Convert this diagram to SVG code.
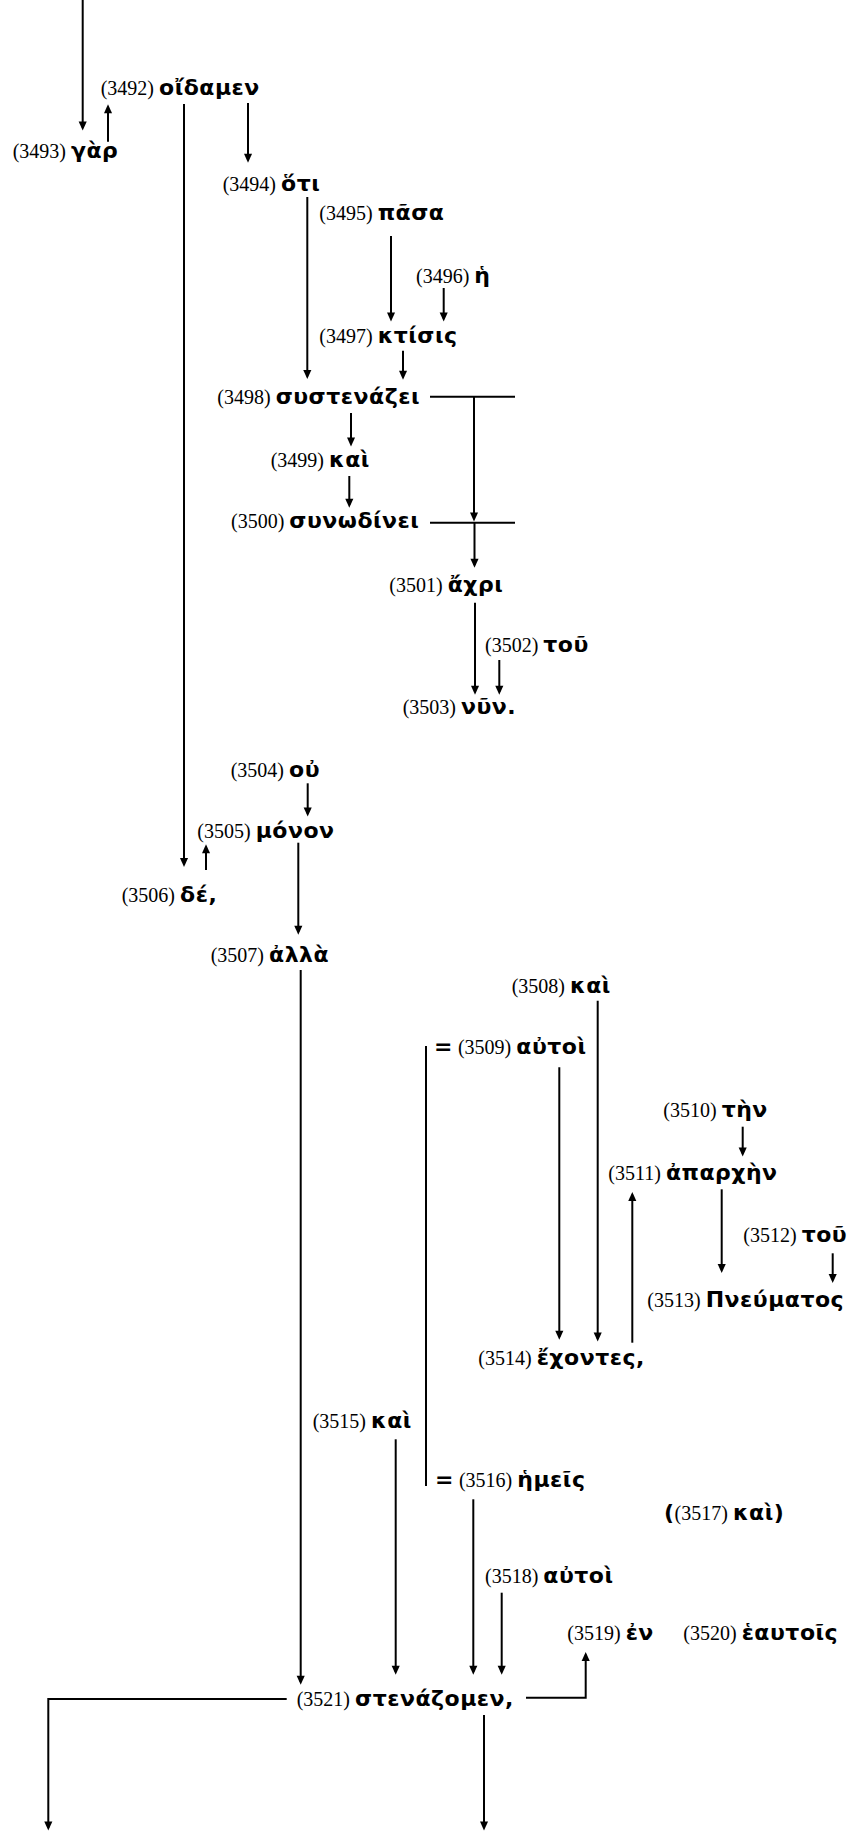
<svg xmlns="http://www.w3.org/2000/svg" width="856" height="1832" viewBox="0 0 856 1832">
<style>
text{font-family:"Liberation Serif","DejaVu Serif",serif;font-size:20px;fill:#000}
.n{font-family:"Liberation Serif","DejaVu Serif",serif;font-size:20px}
.g{font-family:"DejaVu Sans","Noto Sans",sans-serif;font-weight:bold;font-size:22px;letter-spacing:0.5px}
.c path{stroke:#000;stroke-width:2;fill:none}
</style>
<defs>
<marker id="ah" viewBox="0 0 10 10" refX="7" refY="5" markerWidth="10" markerHeight="9" markerUnits="userSpaceOnUse" orient="auto"><path d="M0,0.5 L10,5 L0,9.5 z" fill="#000"/></marker>
</defs>
<rect width="856" height="1832" fill="#fff"/>
<g class="c" id="connectors">
<path d="M82.7,0 V127.7" marker-end="url(#ah)"/>
<path d="M108,141.7 V107" marker-end="url(#ah)"/>
<path d="M184,104 V864.3" marker-end="url(#ah)"/>
<path d="M248,103 V160" marker-end="url(#ah)"/>
<path d="M307.3,197 V376.3" marker-end="url(#ah)"/>
<path d="M391,236 V318.7" marker-end="url(#ah)"/>
<path d="M443.7,288 V318.7" marker-end="url(#ah)"/>
<path d="M403,350.7 V377" marker-end="url(#ah)"/>
<path d="M430,396.7 H515"/>
<path d="M474,396.7 V518.7" marker-end="url(#ah)"/>
<path d="M430,522.7 H515"/>
<path d="M474.5,522.7 V565" marker-end="url(#ah)"/>
<path d="M351,413 V443.7" marker-end="url(#ah)"/>
<path d="M349.3,476 V505" marker-end="url(#ah)"/>
<path d="M475,602.7 V692" marker-end="url(#ah)"/>
<path d="M499.3,660 V692" marker-end="url(#ah)"/>
<path d="M307.7,783.3 V813.7" marker-end="url(#ah)"/>
<path d="M206,870 V847" marker-end="url(#ah)"/>
<path d="M298.3,842.7 V932" marker-end="url(#ah)"/>
<path d="M300.7,970 V1682" marker-end="url(#ah)"/>
<path d="M597.7,1000.7 V1338.7" marker-end="url(#ah)"/>
<path d="M559.3,1067.3 V1337" marker-end="url(#ah)"/>
<path d="M632.3,1342.7 V1194.7" marker-end="url(#ah)"/>
<path d="M742.7,1126.7 V1153.7" marker-end="url(#ah)"/>
<path d="M721.7,1189.3 V1270.3" marker-end="url(#ah)"/>
<path d="M832.7,1253.3 V1280.3" marker-end="url(#ah)"/>
<path d="M426,1046 V1486"/>
<path d="M395.7,1439.3 V1672" marker-end="url(#ah)"/>
<path d="M473.3,1499.3 V1672" marker-end="url(#ah)"/>
<path d="M501.7,1592.7 V1672" marker-end="url(#ah)"/>
<path d="M286.7,1699 H48.3 V1827.7" marker-end="url(#ah)"/>
<path d="M526,1697.7 H585.7 V1654.7" marker-end="url(#ah)"/>
<path d="M484,1715 V1827.7" marker-end="url(#ah)"/>
</g>
<g id="n3492"><text x="100.7" y="95"><tspan class="n">(3492)</tspan> <tspan class="g">οἴδαμεν</tspan></text></g>
<g id="n3493"><text x="12.7" y="158"><tspan class="n">(3493)</tspan> <tspan class="g">γὰρ</tspan></text></g>
<g id="n3494"><text x="222.7" y="190.7"><tspan class="n">(3494)</tspan> <tspan class="g">ὅτι</tspan></text></g>
<g id="n3495"><text x="319.3" y="220"><tspan class="n">(3495)</tspan> <tspan class="g">πᾶσα</tspan></text></g>
<g id="n3496"><text x="416" y="283"><tspan class="n">(3496)</tspan> <tspan class="g">ἡ</tspan></text></g>
<g id="n3497"><text x="319.3" y="343"><tspan class="n">(3497)</tspan> <tspan class="g">κτίσις</tspan></text></g>
<g id="n3498"><text x="217.3" y="404"><tspan class="n">(3498)</tspan> <tspan class="g">συστενάζει</tspan></text></g>
<g id="n3499"><text x="270.7" y="467"><tspan class="n">(3499)</tspan> <tspan class="g">καὶ</tspan></text></g>
<g id="n3500"><text x="231" y="528"><tspan class="n">(3500)</tspan> <tspan class="g">συνωδίνει</tspan></text></g>
<g id="n3501"><text x="389.3" y="591.7"><tspan class="n">(3501)</tspan> <tspan class="g">ἄχρι</tspan></text></g>
<g id="n3502"><text x="485" y="651.7"><tspan class="n">(3502)</tspan> <tspan class="g">τοῦ</tspan></text></g>
<g id="n3503"><text x="402.7" y="714"><tspan class="n">(3503)</tspan> <tspan class="g">νῦν.</tspan></text></g>
<g id="n3504"><text x="230.7" y="776.7"><tspan class="n">(3504)</tspan> <tspan class="g">οὐ</tspan></text></g>
<g id="n3505"><text x="197.3" y="838.3"><tspan class="n">(3505)</tspan> <tspan class="g">μόνον</tspan></text></g>
<g id="n3506"><text x="121.7" y="901.7"><tspan class="n">(3506)</tspan> <tspan class="g">δέ,</tspan></text></g>
<g id="n3507"><text x="210.7" y="961.7"><tspan class="n">(3507)</tspan> <tspan class="g">ἀλλὰ</tspan></text></g>
<g id="n3508"><text x="511.7" y="993.3"><tspan class="n">(3508)</tspan> <tspan class="g">καὶ</tspan></text></g>
<g id="n3509"><text x="434" y="1054"><tspan class="g">=</tspan> <tspan class="n">(3509)</tspan> <tspan class="g">αὐτοὶ</tspan></text></g>
<g id="n3510"><text x="663.3" y="1116.7"><tspan class="n">(3510)</tspan> <tspan class="g">τὴν</tspan></text></g>
<g id="n3511"><text x="608.3" y="1180"><tspan class="n">(3511)</tspan> <tspan class="g">ἀπαρχὴν</tspan></text></g>
<g id="n3512"><text x="743.3" y="1241.7"><tspan class="n">(3512)</tspan> <tspan class="g">τοῦ</tspan></text></g>
<g id="n3513"><text x="647.3" y="1306.7"><tspan class="n">(3513)</tspan> <tspan class="g">Πνεύματος</tspan></text></g>
<g id="n3514"><text x="478.3" y="1365"><tspan class="n">(3514)</tspan> <tspan class="g">ἔχοντες,</tspan></text></g>
<g id="n3515"><text x="312.7" y="1428.3"><tspan class="n">(3515)</tspan> <tspan class="g">καὶ</tspan></text></g>
<g id="n3516"><text x="435" y="1487.3"><tspan class="g">=</tspan> <tspan class="n">(3516)</tspan> <tspan class="g">ἡμεῖς</tspan></text></g>
<g id="n3517"><text x="664" y="1520"><tspan class="g">(</tspan><tspan class="n">(3517)</tspan> <tspan class="g">καὶ)</tspan></text></g>
<g id="n3518"><text x="485" y="1582.7"><tspan class="n">(3518)</tspan> <tspan class="g">αὐτοὶ</tspan></text></g>
<g id="n3519"><text x="567.3" y="1640"><tspan class="n">(3519)</tspan> <tspan class="g">ἐν</tspan></text></g>
<g id="n3520"><text x="683.3" y="1640"><tspan class="n">(3520)</tspan> <tspan class="g">ἑαυτοῖς</tspan></text></g>
<g id="n3521"><text x="296.7" y="1706"><tspan class="n">(3521)</tspan> <tspan class="g">στενάζομεν,</tspan></text></g>
</svg>
